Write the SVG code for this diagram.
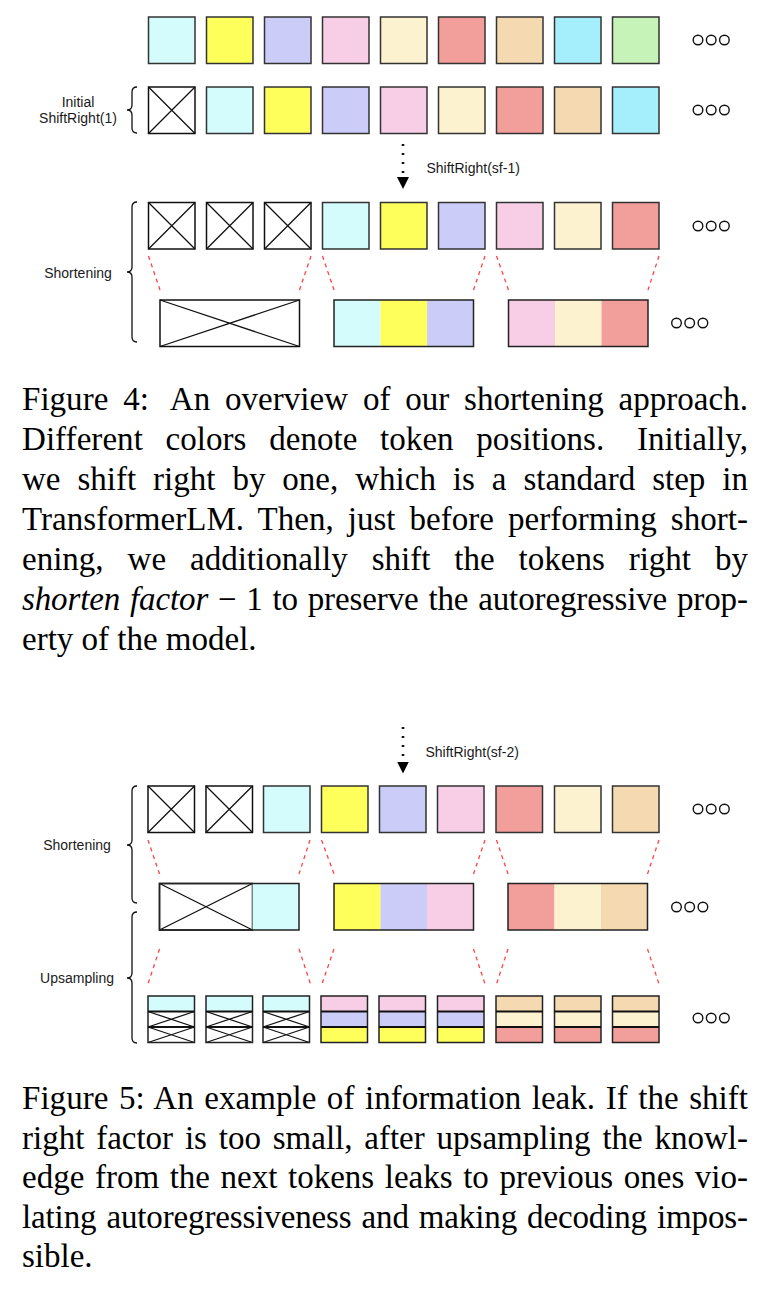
<svg xmlns="http://www.w3.org/2000/svg" xmlns:xlink="http://www.w3.org/1999/xlink" width="778" height="1292" viewBox="0 0 778 1292">
<style>
.lbl{font-family:"Liberation Sans",Arial,Helvetica,sans-serif;font-size:14px;fill:#1a1a1a}
.cap{font-family:"Liberation Serif","Times New Roman",serif;font-size:33px;fill:#000}
.b{stroke:#333;stroke-width:1.5}
.o{fill:none;stroke:#222;stroke-width:1.5}
.xb{fill:#fff;stroke:#111;stroke-width:1.5}
.x{stroke:#111;stroke-width:1.3;fill:none}
.red{stroke:#ff4444;stroke-width:1.3;stroke-dasharray:4 4;fill:none}
.brace{fill:none;stroke:#111;stroke-width:1.3}
.dv{stroke:#111;stroke-width:2}
.dots{fill:none;stroke:#111;stroke-width:2.6;stroke-dasharray:2 7}
.ooo circle{fill:none;stroke:#111;stroke-width:1.4}
.c1{fill:#d5fcfc}.c2{fill:#ffff5c}.c3{fill:#ccccf8}.c4{fill:#f8cde6}.c5{fill:#fdf2d0}.c6{fill:#f29e9b}.c7{fill:#f5d9b0}.c8{fill:#a5eefb}.c9{fill:#c6f3b8}
</style>
<defs>
<g id="xbox"><rect class="xb" x="0" y="0" width="46.5" height="46.5"/><path class="x" d="M0,0L46.5,46.5M46.5,0L0,46.5"/></g>
<g id="ooo" class="ooo"><circle cx="0" cy="0" r="4.8"/><circle cx="13.2" cy="0" r="4.8"/><circle cx="26.4" cy="0" r="4.8"/></g>
<marker id="ah" viewBox="0 0 12 12" refX="0" refY="6" markerWidth="12" markerHeight="12" markerUnits="userSpaceOnUse" orient="auto"><path d="M0,0L12,6L0,12Z" fill="#000"/></marker>
</defs>

<!-- ===== Figure 4 ===== -->
<g id="fig4-row1">
<rect class="b c1" x="148.5" y="17" width="46.5" height="46.5"/>
<rect class="b c2" x="206.5" y="17" width="46.5" height="46.5"/>
<rect class="b c3" x="264.5" y="17" width="46.5" height="46.5"/>
<rect class="b c4" x="322.5" y="17" width="46.5" height="46.5"/>
<rect class="b c5" x="380.5" y="17" width="46.5" height="46.5"/>
<rect class="b c6" x="438.5" y="17" width="46.5" height="46.5"/>
<rect class="b c7" x="496.5" y="17" width="46.5" height="46.5"/>
<rect class="b c8" x="554.5" y="17" width="46.5" height="46.5"/>
<rect class="b c9" x="612.5" y="17" width="46.5" height="46.5"/>
<use xlink:href="#ooo" x="698" y="40"/>
</g>

<g id="fig4-row2">
<use xlink:href="#xbox" x="148.5" y="87"/>
<rect class="b c1" x="206.5" y="87" width="46.5" height="46.5"/>
<rect class="b c2" x="264.5" y="87" width="46.5" height="46.5"/>
<rect class="b c3" x="322.5" y="87" width="46.5" height="46.5"/>
<rect class="b c4" x="380.5" y="87" width="46.5" height="46.5"/>
<rect class="b c5" x="438.5" y="87" width="46.5" height="46.5"/>
<rect class="b c6" x="496.5" y="87" width="46.5" height="46.5"/>
<rect class="b c7" x="554.5" y="87" width="46.5" height="46.5"/>
<rect class="b c8" x="612.5" y="87" width="46.5" height="46.5"/>
<use xlink:href="#ooo" x="698" y="110"/>
</g>

<g id="fig4-label-initial">
<path class="brace" d="M137,87Q132,87 132,92L132,105Q132,110 127,110Q132,110 132,115L132,128Q132,133 137,133"/>
<text class="lbl" x="78" y="107" text-anchor="middle">Initial</text>
<text class="lbl" x="78" y="123" text-anchor="middle">ShiftRight(1)</text>
</g>

<g id="fig4-row3">
<use xlink:href="#xbox" x="148.5" y="202.5"/>
<use xlink:href="#xbox" x="206.5" y="202.5"/>
<use xlink:href="#xbox" x="264.5" y="202.5"/>
<rect class="b c1" x="322.5" y="202.5" width="46.5" height="46.5"/>
<rect class="b c2" x="380.5" y="202.5" width="46.5" height="46.5"/>
<rect class="b c3" x="438.5" y="202.5" width="46.5" height="46.5"/>
<rect class="b c4" x="496.5" y="202.5" width="46.5" height="46.5"/>
<rect class="b c5" x="554.5" y="202.5" width="46.5" height="46.5"/>
<rect class="b c6" x="612.5" y="202.5" width="46.5" height="46.5"/>
<use xlink:href="#ooo" x="698" y="226"/>
</g>

<g id="fig4-row4">
<rect class="xb" x="160" y="300" width="139.5" height="46.5"/>
<path class="x" d="M160,300L299.5,346.5M299.5,300L160,346.5"/>
<rect class="c1" x="334" y="300" width="46.5" height="46.5"/>
<rect class="c2" x="380.5" y="300" width="46.5" height="46.5"/>
<rect class="c3" x="427" y="300" width="46.5" height="46.5"/>
<rect class="o" x="334" y="300" width="139.5" height="46.5"/>
<rect class="c4" x="508.5" y="300" width="46.5" height="46.5"/>
<rect class="c5" x="555" y="300" width="46.5" height="46.5"/>
<rect class="c6" x="601.5" y="300" width="46.5" height="46.5"/>
<rect class="o" x="508.5" y="300" width="139.5" height="46.5"/>
<use xlink:href="#ooo" x="676.5" y="323"/>
</g>

<g id="fig4-label-shortening">
<path class="brace" d="M137,202Q132,202 132,207L132,267Q132,272 127,272Q132,272 132,277L132,337Q132,342 137,342"/>
<text class="lbl" x="78" y="278" text-anchor="middle">Shortening</text>
</g>

<g id="fig4-shift-label">
<text class="lbl" x="426.5" y="173">ShiftRight(sf-1)</text>
</g>

<g id="fig4-connectors">
<line class="dots" x1="403" y1="144" x2="403" y2="177" marker-end="url(#ah)"/>
<line class="red" x1="148.5" y1="256" x2="160" y2="290"/>
<line class="red" x1="311" y1="256" x2="299.5" y2="290"/>
<line class="red" x1="322.5" y1="256" x2="334" y2="290"/>
<line class="red" x1="485" y1="256" x2="473.5" y2="290"/>
<line class="red" x1="496.5" y1="256" x2="508.5" y2="290"/>
<line class="red" x1="659" y1="256" x2="648" y2="290"/>
</g>

<g id="fig4-caption" class="cap">
<text x="22" y="410" textLength="726" lengthAdjust="spacing" style="word-spacing:6.5px">Figure 4: <tspan dx="8">An</tspan> overview of our shortening approach.</text>
<text x="22" y="450" textLength="726" lengthAdjust="spacing" style="word-spacing:14.3px">Different colors denote token positions. <tspan dx="10">Initially,</tspan></text>
<text x="22" y="490" textLength="726" lengthAdjust="spacing" style="word-spacing:8.7px">we shift right by one, which is a standard step in</text>
<text x="22" y="530" textLength="726" lengthAdjust="spacing" style="word-spacing:5.7px">TransformerLM. Then, just before performing short-</text>
<text x="22" y="570" textLength="726" lengthAdjust="spacing" style="word-spacing:15.7px">ening, we additionally shift the tokens right by</text>
<text x="22" y="610" textLength="726" lengthAdjust="spacing" style="word-spacing:1.7px"><tspan font-style="italic">shorten factor</tspan> − 1 to preserve the autoregressive prop-</text>
<text x="22" y="650">erty of the model.</text>
</g>

<!-- ===== Figure 5 ===== -->
<g id="fig5-shift-label">
<text class="lbl" x="425.5" y="757">ShiftRight(sf-2)</text>
</g>

<g id="fig5-rowA">
<use xlink:href="#xbox" x="148" y="786"/>
<use xlink:href="#xbox" x="206" y="786"/>
<rect class="b c1" x="263.5" y="786" width="46.5" height="46.5"/>
<rect class="b c2" x="321.5" y="786" width="46.5" height="46.5"/>
<rect class="b c3" x="379.5" y="786" width="46.5" height="46.5"/>
<rect class="b c4" x="437.5" y="786" width="46.5" height="46.5"/>
<rect class="b c6" x="496" y="786" width="46.5" height="46.5"/>
<rect class="b c5" x="554.5" y="786" width="46.5" height="46.5"/>
<rect class="b c7" x="612.5" y="786" width="46.5" height="46.5"/>
<use xlink:href="#ooo" x="698" y="809"/>
</g>

<g id="fig5-label-shortening">
<path class="brace" d="M137,786Q132,786 132,791L132,840Q132,845 127,845Q132,845 132,850L132,898Q132,903 137,903"/>
<text class="lbl" x="77" y="850" text-anchor="middle">Shortening</text>
</g>

<g id="fig5-rowB">
<rect class="xb" x="159.5" y="883.5" width="93" height="46.5"/>
<path class="x" d="M159.5,883.5L252.5,930M252.5,883.5L159.5,930"/>
<rect class="c1" x="252.5" y="883.5" width="46.5" height="46.5"/>
<rect class="o" x="159.5" y="883.5" width="139.5" height="46.5"/>
<rect class="c2" x="334" y="883.5" width="46.5" height="46.5"/>
<rect class="c3" x="380.5" y="883.5" width="46.5" height="46.5"/>
<rect class="c4" x="427" y="883.5" width="46.5" height="46.5"/>
<rect class="o" x="334" y="883.5" width="139.5" height="46.5"/>
<rect class="c6" x="508" y="883.5" width="46.5" height="46.5"/>
<rect class="c5" x="554.5" y="883.5" width="46.5" height="46.5"/>
<rect class="c7" x="601" y="883.5" width="46.5" height="46.5"/>
<rect class="o" x="508" y="883.5" width="139.5" height="46.5"/>
<use xlink:href="#ooo" x="676.5" y="907"/>
</g>

<g id="fig5-label-upsampling">
<path class="brace" d="M137,912Q132,912 132,917L132,973Q132,978 127,978Q132,978 132,983L132,1038Q132,1043 137,1043"/>
<text class="lbl" x="77" y="983" text-anchor="middle">Upsampling</text>
</g>

<g id="fig5-rowC">
<g id="up1">
<rect class="c1" x="148" y="996" width="46.5" height="15.5"/>
<path class="x" d="M148,1011.5L194.5,1027M194.5,1011.5L148,1027M148,1027L194.5,1042.5M194.5,1027L148,1042.5"/>
<rect class="o" x="148" y="996" width="46.5" height="46.5"/>
<path class="dv" d="M148,1011.5H194.5M148,1027H194.5"/>
</g>
<g id="up2">
<rect class="c1" x="206" y="996" width="46.5" height="15.5"/>
<path class="x" d="M206,1011.5L252.5,1027M252.5,1011.5L206,1027M206,1027L252.5,1042.5M252.5,1027L206,1042.5"/>
<rect class="o" x="206" y="996" width="46.5" height="46.5"/>
<path class="dv" d="M206,1011.5H252.5M206,1027H252.5"/>
</g>
<g id="up3">
<rect class="c1" x="263" y="996" width="46.5" height="15.5"/>
<path class="x" d="M263,1011.5L309.5,1027M309.5,1011.5L263,1027M263,1027L309.5,1042.5M309.5,1027L263,1042.5"/>
<rect class="o" x="263" y="996" width="46.5" height="46.5"/>
<path class="dv" d="M263,1011.5H309.5M263,1027H309.5"/>
</g>
<g id="up4">
<rect class="c4" x="321" y="996" width="46.5" height="15.5"/>
<rect class="c3" x="321" y="1011.5" width="46.5" height="15.5"/>
<rect class="c2" x="321" y="1027" width="46.5" height="15.5"/>
<rect class="o" x="321" y="996" width="46.5" height="46.5"/>
<path class="dv" d="M321,1011.5H367.5M321,1027H367.5"/>
</g>
<g id="up5">
<rect class="c4" x="379" y="996" width="46.5" height="15.5"/>
<rect class="c3" x="379" y="1011.5" width="46.5" height="15.5"/>
<rect class="c2" x="379" y="1027" width="46.5" height="15.5"/>
<rect class="o" x="379" y="996" width="46.5" height="46.5"/>
<path class="dv" d="M379,1011.5H425.5M379,1027H425.5"/>
</g>
<g id="up6">
<rect class="c4" x="437.5" y="996" width="46.5" height="15.5"/>
<rect class="c3" x="437.5" y="1011.5" width="46.5" height="15.5"/>
<rect class="c2" x="437.5" y="1027" width="46.5" height="15.5"/>
<rect class="o" x="437.5" y="996" width="46.5" height="46.5"/>
<path class="dv" d="M437.5,1011.5H484M437.5,1027H484"/>
</g>
<g id="up7">
<rect class="c7" x="496" y="996" width="46.5" height="15.5"/>
<rect class="c5" x="496" y="1011.5" width="46.5" height="15.5"/>
<rect class="c6" x="496" y="1027" width="46.5" height="15.5"/>
<rect class="o" x="496" y="996" width="46.5" height="46.5"/>
<path class="dv" d="M496,1011.5H542.5M496,1027H542.5"/>
</g>
<g id="up8">
<rect class="c7" x="554.5" y="996" width="46.5" height="15.5"/>
<rect class="c5" x="554.5" y="1011.5" width="46.5" height="15.5"/>
<rect class="c6" x="554.5" y="1027" width="46.5" height="15.5"/>
<rect class="o" x="554.5" y="996" width="46.5" height="46.5"/>
<path class="dv" d="M554.5,1011.5H601M554.5,1027H601"/>
</g>
<g id="up9">
<rect class="c7" x="612.5" y="996" width="46.5" height="15.5"/>
<rect class="c5" x="612.5" y="1011.5" width="46.5" height="15.5"/>
<rect class="c6" x="612.5" y="1027" width="46.5" height="15.5"/>
<rect class="o" x="612.5" y="996" width="46.5" height="46.5"/>
<path class="dv" d="M612.5,1011.5H659M612.5,1027H659"/>
</g>
<use xlink:href="#ooo" x="698" y="1018"/>
</g>

<g id="fig5-connectors">
<line class="dots" x1="403" y1="727" x2="403" y2="761.5" marker-end="url(#ah)"/>
<line class="red" x1="148" y1="840" x2="159.5" y2="874"/>
<line class="red" x1="310" y1="840" x2="299" y2="874"/>
<line class="red" x1="321.5" y1="840" x2="334" y2="874"/>
<line class="red" x1="485" y1="840" x2="473.5" y2="874"/>
<line class="red" x1="496.5" y1="840" x2="508" y2="874"/>
<line class="red" x1="659" y1="840" x2="647.5" y2="874"/>
<line class="red" x1="159.5" y1="949" x2="148" y2="984"/>
<line class="red" x1="299" y1="949" x2="310.5" y2="984"/>
<line class="red" x1="334" y1="949" x2="322" y2="984"/>
<line class="red" x1="473.5" y1="949" x2="485" y2="984"/>
<line class="red" x1="508" y1="949" x2="496.5" y2="984"/>
<line class="red" x1="647.5" y1="949" x2="659" y2="984"/>
</g>

<g id="fig5-caption" class="cap">
<text x="22" y="1109" textLength="726" lengthAdjust="spacing" style="word-spacing:2.2px">Figure 5: An example of information leak. If the shift</text>
<text x="22" y="1148.5" textLength="726" lengthAdjust="spacing" style="word-spacing:3.6px">right factor is too small, after upsampling the knowl-</text>
<text x="22" y="1188" textLength="726" lengthAdjust="spacing" style="word-spacing:2.3px">edge from the next tokens leaks to previous ones vio-</text>
<text x="22" y="1227.5" textLength="726" lengthAdjust="spacing" style="word-spacing:1.9px">lating autoregressiveness and making decoding impos-</text>
<text x="22" y="1267">sible.</text>
</g>
</svg>
